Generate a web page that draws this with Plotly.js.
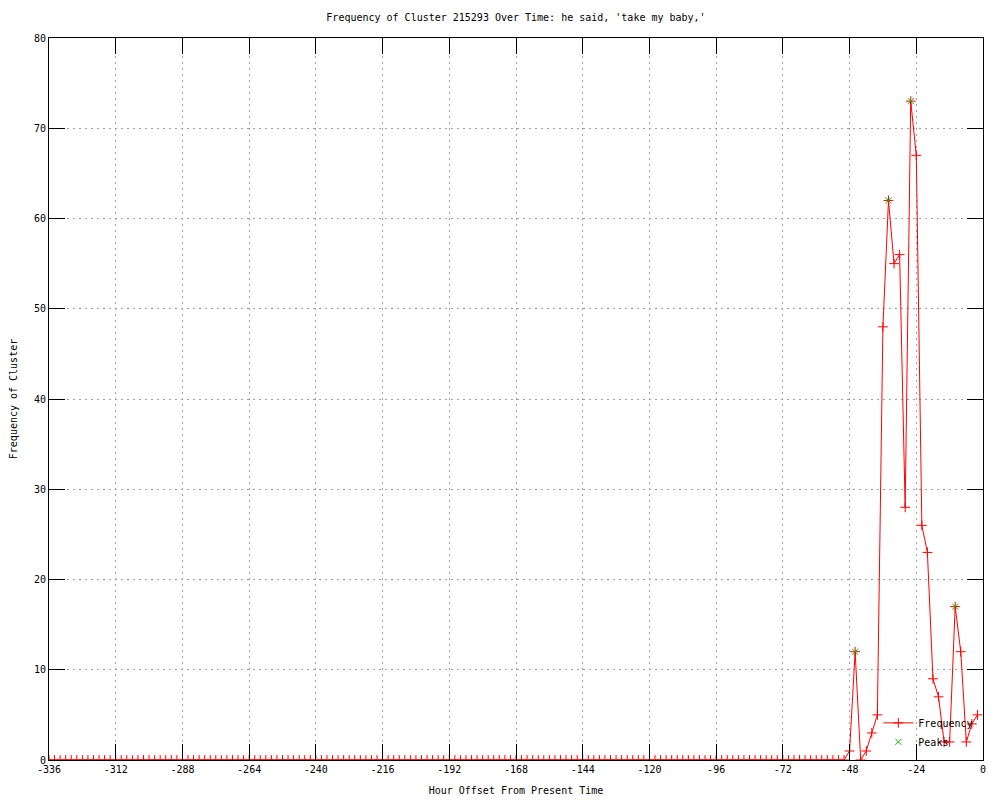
<!DOCTYPE html>
<html>
<head>
<meta charset="utf-8">
<script src="https://cdn.plot.ly/plotly-3.0.1.min.js"></script>
<style>html,body{margin:0;padding:0;background:#fff;}#chart{width:1000px;height:800px;}</style>
</head>
<body>
<div id="chart"></div>
<script>
// Hour offsets (x) for the frequency series
var hours = [
  -336,-334,-332,-330,-328,-326,-324,-322,-320,-318,-316,-314,-312,-310,-308,-306,-304,-302,-300,-298,
  -296,-294,-292,-290,-288,-286,-284,-282,-280,-278,-276,-274,-272,-270,-268,-266,-264,-262,-260,-258,
  -256,-254,-252,-250,-248,-246,-244,-242,-240,-238,-236,-234,-232,-230,-228,-226,-224,-222,-220,-218,
  -216,-214,-212,-210,-208,-206,-204,-202,-200,-198,-196,-194,-192,-190,-188,-186,-184,-182,-180,-178,
  -176,-174,-172,-170,-168,-166,-164,-162,-160,-158,-156,-154,-152,-150,-148,-146,-144,-142,-140,-138,
  -136,-134,-132,-130,-128,-126,-124,-122,-120,-118,-116,-114,-112,-110,-108,-106,-104,-102,-100,-98,
  -96,-94,-92,-90,-88,-86,-84,-82,-80,-78,-76,-74,-72,-70,-68,-66,-64,-62,-60,-58,
  -56,-54,-52,-50,-48,-46,-44,-42,-40,-38,-36,-34,-32,-30,-28,-26,-24,-22,-20,-18,
  -16,-14,-12,-10,-8,-6,-4,-2
];
// Frequency values
var frequency = [
  0,0,0,0,0,0,0,0,0,0,0,0,0,0,0,0,0,0,0,0,
  0,0,0,0,0,0,0,0,0,0,0,0,0,0,0,0,0,0,0,0,
  0,0,0,0,0,0,0,0,0,0,0,0,0,0,0,0,0,0,0,0,
  0,0,0,0,0,0,0,0,0,0,0,0,0,0,0,0,0,0,0,0,
  0,0,0,0,0,0,0,0,0,0,0,0,0,0,0,0,0,0,0,0,
  0,0,0,0,0,0,0,0,0,0,0,0,0,0,0,0,0,0,0,0,
  0,0,0,0,0,0,0,0,0,0,0,0,0,0,0,0,0,0,0,0,
  0,0,0,0,1,12,0,1,3,5,48,62,55,56,28,73,67,26,23,9,
  7,2,2,17,12,2,4,5
];
// Peaks
var peakHours = [-46, -34, -26, -10];
var peakValues = [12, 62, 73, 17];

// Tick labels
var xTickVals = [-336,-312,-288,-264,-240,-216,-192,-168,-144,-120,-96,-72,-48,-24,0];
var xTickText = ["-336","-312","-288","-264","-240","-216","-192","-168","-144","-120","-96","-72","-48","-24","0"];
var yTickVals = [0,10,20,30,40,50,60,70,80];
var yTickText = ["0","10","20","30","40","50","60","70","80"];

var FONT = "DejaVu Sans Mono, Liberation Mono, monospace";

var traces = [
  {
    x: hours, y: frequency, name: "Frequency", type: "scatter", mode: "lines+markers",
    line: {color: "#ff0000", width: 1},
    marker: {symbol: "cross-thin-open", size: 7, line: {color: "#ff0000", width: 1}, color: "#ff0000"},
    cliponaxis: true
  },
  {
    x: peakHours, y: peakValues, name: "Peaks", type: "scatter", mode: "markers",
    marker: {symbol: "x-thin-open", size: 6, line: {color: "#00c000", width: 1}, color: "#00c000"},
    cliponaxis: false
  }
];

var layout = {
  width: 1000, height: 800,
  margin: {l: 49, r: 17, t: 38, b: 40, pad: 0},
  paper_bgcolor: "#ffffff", plot_bgcolor: "#ffffff",
  font: {family: FONT, size: 10, color: "#000000"},
  title: {text: "Frequency of Cluster 215293 Over Time: he said, 'take my baby,'",
          font: {family: FONT, size: 10, color: "#000"}, x: 0.516, xanchor: "center",
          y: 0.978, yanchor: "middle", yref: "container"},
  xaxis: {
    range: [-336, 0], tickmode: "array", tickvals: xTickVals, ticktext: xTickText,
    ticks: "inside", ticklen: 16, tickwidth: 1, tickcolor: "#000",
    showline: true, linecolor: "#000", linewidth: 1, mirror: "allticks",
    showgrid: true, gridcolor: "#a0a0a0", gridwidth: 1, griddash: "2px,4px",
    zeroline: false, tickfont: {family: FONT, size: 10},
    title: {text: "Hour Offset From Present Time", font: {family: FONT, size: 10}, standoff: 12}
  },
  yaxis: {
    range: [0, 80], tickmode: "array", tickvals: yTickVals, ticktext: yTickText,
    ticks: "inside", ticklen: 16, tickwidth: 1, tickcolor: "#000",
    showline: true, linecolor: "#000", linewidth: 1, mirror: "allticks",
    showgrid: true, gridcolor: "#a0a0a0", gridwidth: 1, griddash: "2px,4px",
    zeroline: false, tickfont: {family: FONT, size: 10},
    title: {text: "Frequency of Cluster", font: {family: FONT, size: 10}, standoff: 14}
  },
  showlegend: true,
  legend: {x: 0.995, xanchor: "right", y: 0.005, yanchor: "bottom",
           bgcolor: "rgba(0,0,0,0)", borderwidth: 0, font: {family: FONT, size: 10},
           tracegroupgap: 0, itemwidth: 30}
};

Plotly.newPlot("chart", traces, layout, {displayModeBar: false, staticPlot: true});
</script>
</body>
</html>
